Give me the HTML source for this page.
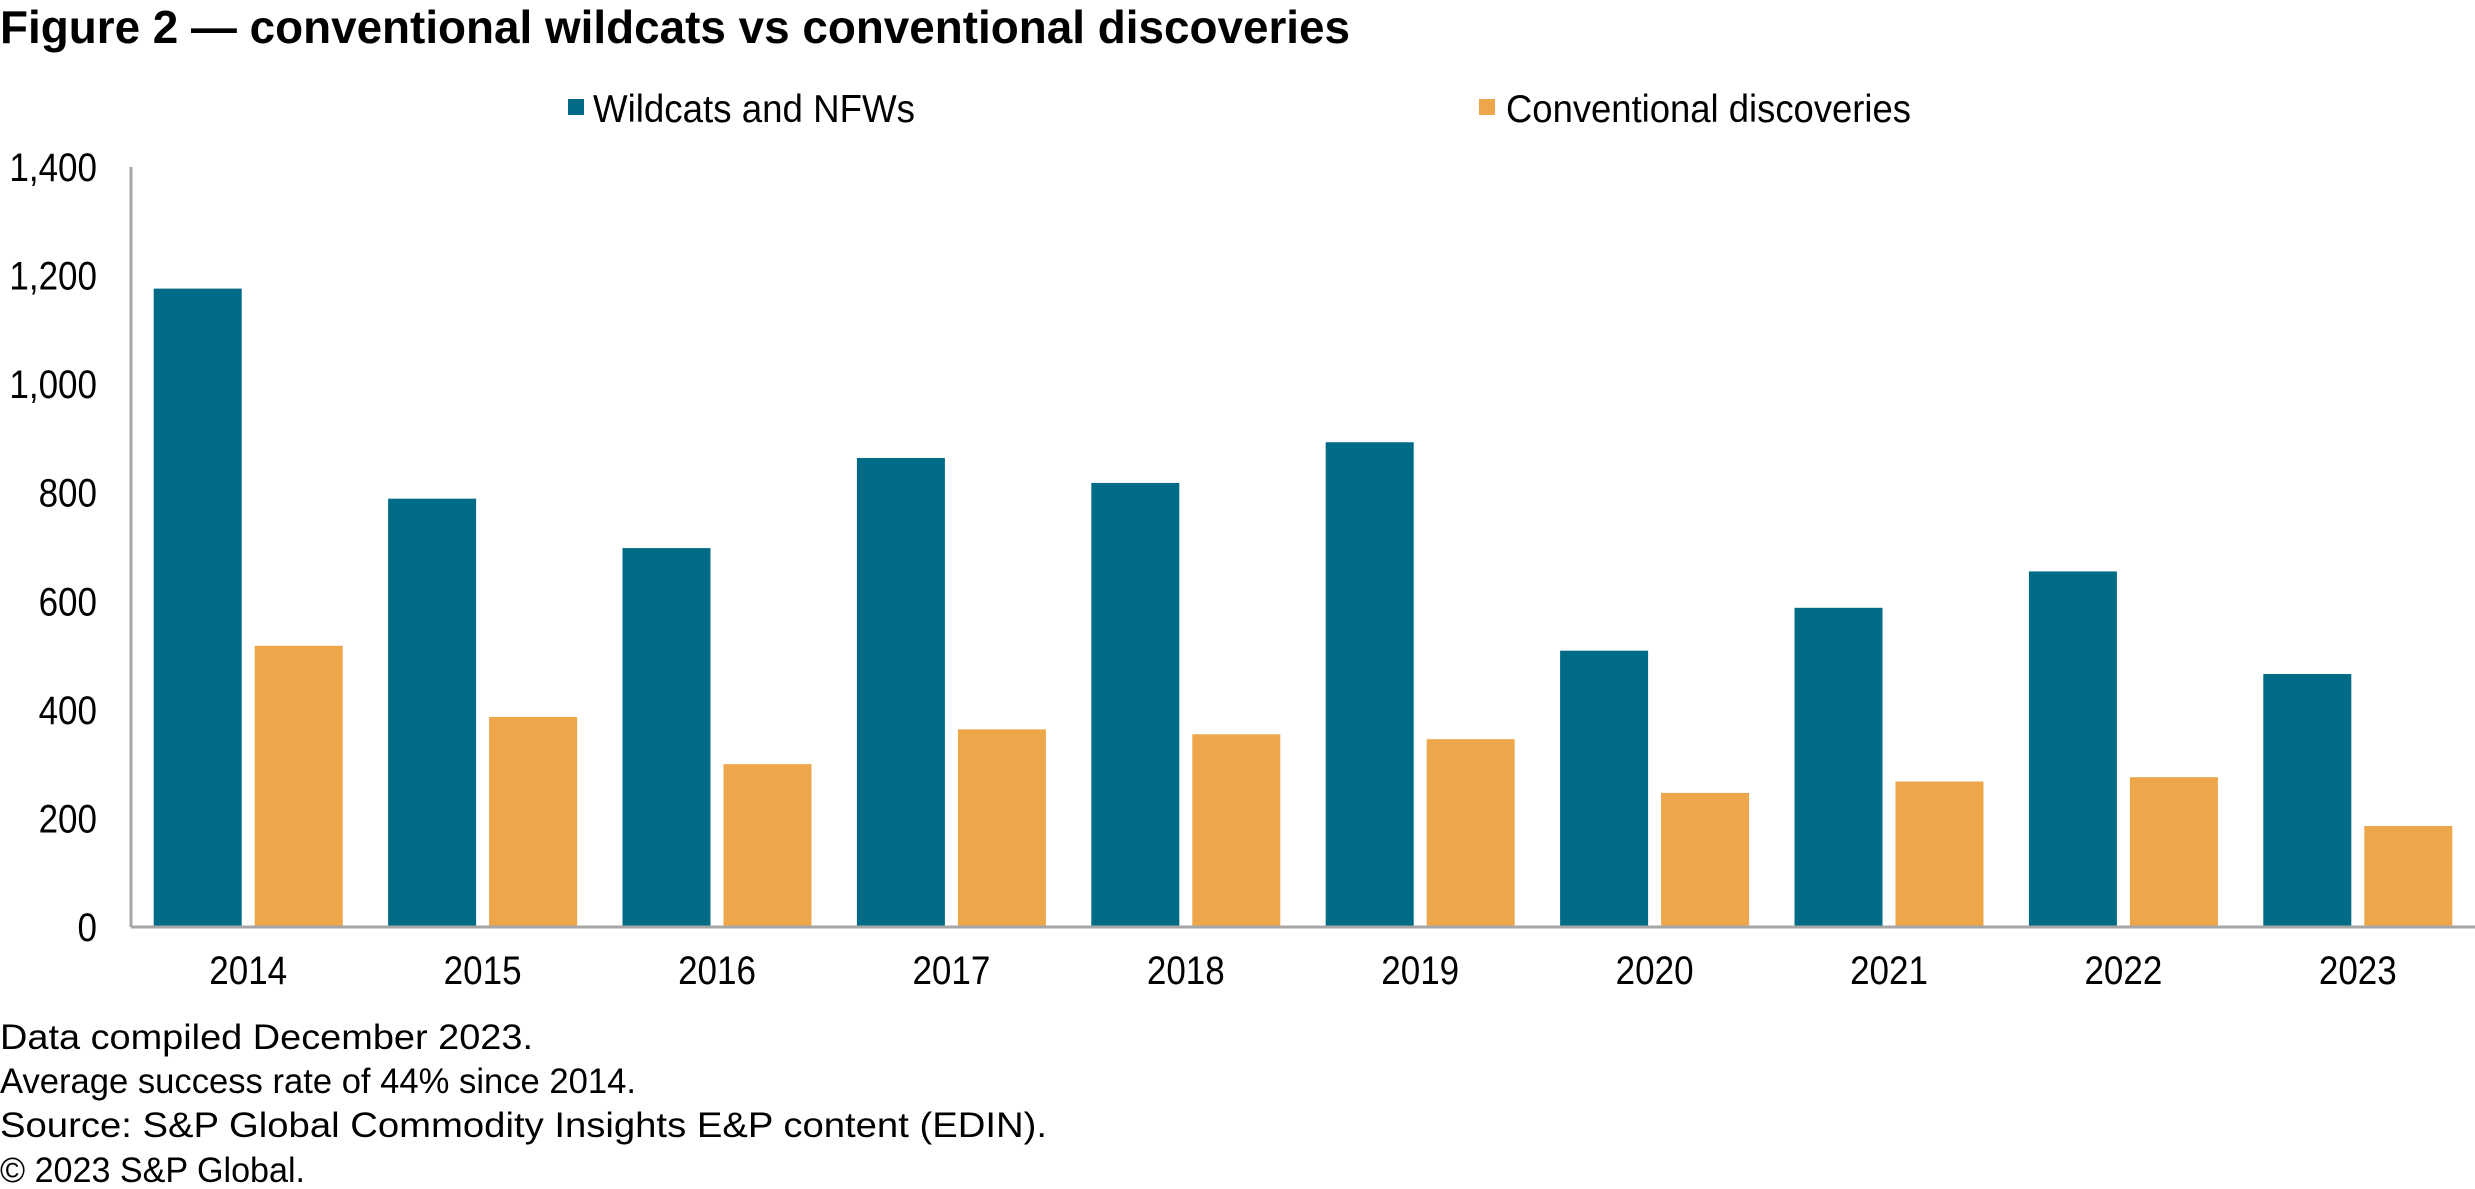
<!DOCTYPE html>
<html><head><meta charset="utf-8"><style>
html,body{margin:0;padding:0;background:#fff;}
svg{display:block;font-family:"Liberation Sans",Arial,sans-serif;}
</style></head><body>
<svg id="chart" width="2475" height="1189" viewBox="0 0 2475 1189" xmlns="http://www.w3.org/2000/svg">
<text x="0" y="43" font-size="46" font-weight="bold" textLength="1350" lengthAdjust="spacingAndGlyphs">Figure 2 — conventional wildcats vs conventional discoveries</text>
<g>
<rect x="568" y="99" width="16" height="16" fill="#006b87"/>
<text x="593" y="122" font-size="39" textLength="322" lengthAdjust="spacingAndGlyphs">Wildcats and NFWs</text>
<rect x="1479" y="99" width="16" height="16" fill="#eea64b"/>
<text x="1506" y="122" font-size="39" textLength="405" lengthAdjust="spacingAndGlyphs">Conventional discoveries</text>
</g>
<g id="yticks"></g>
<g id="bars"></g>
<g id="xticks"></g>
<line x1="131" y1="167" x2="131" y2="927" stroke="#a6a6a6" stroke-width="3"/>
<line x1="131" y1="927" x2="2475" y2="927" stroke="#a6a6a6" stroke-width="3"/>
<g font-size="35">
<text x="0" y="1049" textLength="533" lengthAdjust="spacingAndGlyphs">Data compiled December 2023.</text>
<text x="0" y="1093" textLength="636" lengthAdjust="spacingAndGlyphs">Average success rate of 44% since 2014.</text>
<text x="0" y="1137" textLength="1047" lengthAdjust="spacingAndGlyphs">Source: S&amp;P Global Commodity Insights E&amp;P content (EDIN).</text>
<text x="0" y="1182" textLength="305" lengthAdjust="spacingAndGlyphs">© 2023 S&amp;P Global.</text>
</g>
</svg>
<script>
const categories = ["2014","2015","2016","2017","2018","2019","2020","2021","2022","2023"];
const wildcats = [1176,789,698,864,818,893,509,588,655,466];
const discoveries = [518,387,300,364,355,346,247,268,276,186];
const yTicks = [0,200,400,600,800,1000,1200,1400];
const yTickLabels = ["0","200","400","600","800","1,000","1,200","1,400"];

const NS = "http://www.w3.org/2000/svg";
const plotL = 131, plotR = 2475, plotTop = 167, plotBot = 927, yMax = 1400;
const y = v => plotBot - v / yMax * (plotBot - plotTop);
const band = (plotR - plotL) / categories.length;
const xCenter = i => plotL + band * (i + 0.5);
const barW = 88, gap = 13;

function fit(t) {
  const w = t.getComputedTextLength();
  t.setAttribute('font-size', 40);
  t.setAttribute('textLength', w);
  t.setAttribute('lengthAdjust', 'spacingAndGlyphs');
}

const yt = document.getElementById('yticks');
yTicks.forEach((v, i) => {
  const t = document.createElementNS(NS, 'text');
  t.setAttribute('x', 97);
  t.setAttribute('y', y(v) + 14);
  t.setAttribute('font-size', 35);
  t.setAttribute('text-anchor', 'end');
  t.textContent = yTickLabels[i];
  
  
  yt.appendChild(t);
  fit(t);
});

const bars = document.getElementById('bars');
const xt = document.getElementById('xticks');
categories.forEach((c, i) => {
  const cx = xCenter(i);
  const b1 = document.createElementNS(NS, 'rect');
  b1.setAttribute('x', cx - gap / 2 - barW);
  b1.setAttribute('y', y(wildcats[i]));
  b1.setAttribute('width', barW);
  b1.setAttribute('height', plotBot - y(wildcats[i]));
  b1.setAttribute('fill', '#006b87');
  
  
  bars.appendChild(b1);
  const b2 = document.createElementNS(NS, 'rect');
  b2.setAttribute('x', cx + gap / 2);
  b2.setAttribute('y', y(discoveries[i]));
  b2.setAttribute('width', barW);
  b2.setAttribute('height', plotBot - y(discoveries[i]));
  b2.setAttribute('fill', '#eea64b');
  
  
  bars.appendChild(b2);
  const t = document.createElementNS(NS, 'text');
  t.setAttribute('x', cx);
  t.setAttribute('y', 984);
  t.setAttribute('font-size', 35);
  t.setAttribute('text-anchor', 'middle');
  t.textContent = c;
  
  
  xt.appendChild(t);
  fit(t);
});
</script>
</body></html>
